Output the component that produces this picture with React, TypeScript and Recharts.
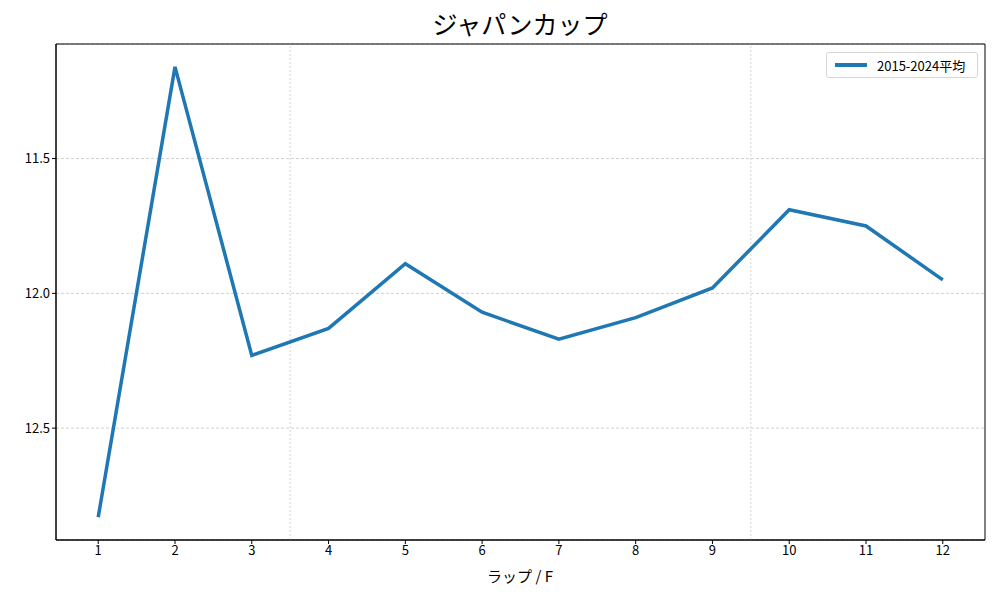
import React from 'react'
import { LineChart, Line, XAxis, YAxis, CartesianGrid, ReferenceLine, ReferenceArea } from 'recharts'

const laps = [1, 2, 3, 4, 5, 6, 7, 8, 9, 10, 11, 12]
const avgTimes = [12.83, 11.16, 12.23, 12.13, 11.89, 12.07, 12.17, 12.09, 11.98, 11.69, 11.75, 11.95]
const yTicks = [11.5, 12.0, 12.5]
const sectionBreaks = [3.5, 9.5]

const seriesName = '2015-2024平均'
const font = '"Noto Sans CJK JP", "DejaVu Sans", sans-serif'

const data = laps.map((lap, i) => ({ lap, value: avgTimes[i] }))

const X_DOMAIN: [number, number] = [0.45, 12.55]
const Y_DOMAIN: [number, number] = [11.075, 12.915]

function LegendBox() {
  return (
    <div
      style={{
        position: 'absolute',
        left: 826,
        top: 52,
        width: 152,
        display: 'flex',
        alignItems: 'center',
        border: '1px solid #d6d6d6',
        borderRadius: 3,
        background: '#fff',
        padding: '3px 8px',
        fontFamily: font,
        fontSize: 13,
        color: '#000',
        boxSizing: 'border-box',
        height: 26,
      }}
    >
      <span style={{ display: 'inline-block', width: 32, height: 3.5, background: '#1f77b4', marginRight: 10 }} />
      <span>{seriesName}</span>
    </div>
  )
}

export default function App() {
  return (
    <div style={{ position: 'absolute', left: 0, top: 0, width: 1000, height: 600, background: '#fff' }}>
      <div
        style={{
          position: 'absolute',
          left: 20,
          width: 1000,
          top: 5,
          textAlign: 'center',
          fontFamily: font,
          fontSize: 25,
          color: '#000',
        }}
      >
        ジャパンカップ
      </div>
      <LineChart width={1000} height={600} data={data} margin={{ top: 44, right: 15, bottom: 0, left: 0 }}>
        <CartesianGrid vertical={false} stroke="#b0b0b0" strokeDasharray="3 2" strokeWidth={0.6} />
        {sectionBreaks.map((x) => (
          <ReferenceLine key={x} x={x} stroke="#cccccc" strokeDasharray="2 2" strokeWidth={0.8} />
        ))}
        <XAxis
          dataKey="lap"
          type="number"
          domain={X_DOMAIN}
          ticks={laps}
          allowDataOverflow
          height={60}
          tickSize={4}
          tick={{ fontSize: 13, fontFamily: font, fill: '#000' }}
          tickLine={{ stroke: '#000' }}
          axisLine={{ stroke: '#000' }}
        />
        <YAxis
          type="number"
          reversed
          domain={Y_DOMAIN}
          ticks={yTicks}
          allowDataOverflow
          width={56}
          tickSize={4}
          tickFormatter={(v: number) => v.toFixed(1)}
          tick={{ fontSize: 13, fontFamily: font, fill: '#000' }}
          tickLine={{ stroke: '#000' }}
          axisLine={{ stroke: '#000' }}
        />
        <ReferenceArea
          x1={X_DOMAIN[0]}
          x2={X_DOMAIN[1]}
          y1={Y_DOMAIN[0]}
          y2={Y_DOMAIN[1]}
          fill="none"
          stroke="#000"
          strokeWidth={1}
        />
        <Line
          type="linear"
          dataKey="value"
          name={seriesName}
          stroke="#1f77b4"
          strokeWidth={3.5}
          dot={false}
          isAnimationActive={false}
        />
      </LineChart>
      <LegendBox />
      <div
        style={{
          position: 'absolute',
          left: 20,
          width: 1000,
          top: 565,
          textAlign: 'center',
          fontFamily: font,
          fontSize: 15,
          color: '#000',
        }}
      >
        ラップ / F
      </div>
    </div>
  )
}
